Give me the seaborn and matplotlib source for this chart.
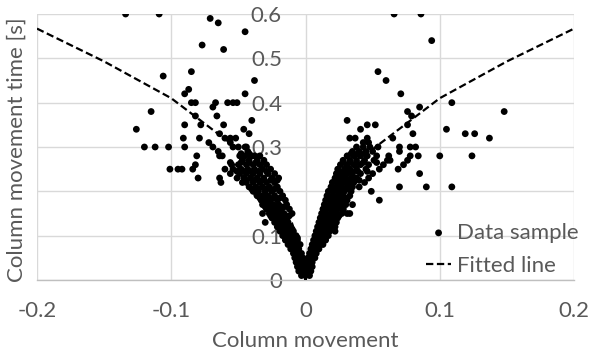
import pandas as pd
import matplotlib
matplotlib.use("Agg")
import matplotlib.pyplot as plt
import seaborn as sns

# dense V-shaped core: (y, [x values]) rows
core_rows = [
    (0.01, [-0.003, 0.0, 0.003]),
    (0.02, [-0.005, -0.002, 0.001, 0.004]),
    (0.03, [-0.006, -0.003, 0.0, 0.003, 0.005]),
    (0.04, [-0.007, -0.004, -0.001, 0.002, 0.005]),
    (0.05, [-0.008, -0.005, -0.002, 0.002, 0.005, 0.007]),
    (0.06, [-0.009, -0.006, -0.003, 0.003, 0.006, 0.008]),
    (0.07, [-0.011, -0.008, -0.005, 0.004, 0.007, 0.010]),
    (0.08, [-0.013, -0.010, -0.007, -0.004, 0.005, 0.008, 0.011, 0.013]),
    (0.09, [-0.015, -0.012, -0.009, -0.006, 0.006, 0.009, 0.012, 0.015]),
    (0.095, [-0.014, -0.010, -0.006, 0.008, 0.012]),
    (0.10, [-0.017, -0.014, -0.011, -0.007, 0.007, 0.010, 0.013, 0.017]),
    (0.11, [-0.019, -0.016, -0.013, -0.009, 0.008, 0.011, 0.014, 0.018]),
    (0.115, [-0.018, -0.014, -0.010, 0.010, 0.014, 0.018]),
    (0.12, [-0.021, -0.018, -0.015, -0.011, 0.009, 0.012, 0.015, 0.019, 0.022]),
    (0.13, [-0.023, -0.020, -0.017, -0.013, 0.010, 0.013, 0.016, 0.020, 0.023]),
    (0.135, [-0.022, -0.018, -0.014, 0.012, 0.016, 0.020]),
    (0.14, [-0.025, -0.022, -0.018, -0.014, 0.011, 0.014, 0.017, 0.021, 0.024]),
    (0.145, [-0.026, -0.021, -0.017, -0.012, 0.013, 0.017, 0.021, 0.025]),
    (0.15, [-0.027, -0.024, -0.020, -0.016, -0.010, 0.012, 0.015, 0.019, 0.023, 0.027]),
    (0.16, [-0.029, -0.026, -0.022, -0.018, -0.012, 0.013, 0.016, 0.020, 0.024, 0.028]),
    (0.165, [-0.030, -0.025, -0.021, -0.016, 0.015, 0.019, 0.023, 0.027]),
    (0.17, [-0.031, -0.028, -0.024, -0.020, -0.014, 0.014, 0.018, 0.022, 0.026, 0.030]),
    (0.18, [-0.033, -0.030, -0.026, -0.021, -0.015, 0.015, 0.019, 0.023, 0.027, 0.031]),
    (0.185, [-0.034, -0.029, -0.024, -0.019, 0.017, 0.021, 0.025, 0.030]),
    (0.19, [-0.036, -0.032, -0.028, -0.023, -0.017, 0.016, 0.020, 0.024, 0.028, 0.033]),
    (0.20, [-0.039, -0.035, -0.030, -0.025, -0.019, 0.017, 0.021, 0.025, 0.029, 0.034]),
    (0.205, [-0.040, -0.035, -0.029, -0.023, 0.019, 0.023, 0.027, 0.032]),
    (0.21, [-0.042, -0.037, -0.032, -0.027, -0.021, 0.019, 0.023, 0.027, 0.031, 0.035, 0.040]),
    (0.22, [-0.044, -0.039, -0.034, -0.029, -0.023, 0.020, 0.024, 0.028, 0.032, 0.036, 0.044]),
    (0.225, [-0.044, -0.038, -0.032, -0.026, -0.021, 0.022, 0.026, 0.030, 0.035, 0.040]),
    (0.23, [-0.046, -0.041, -0.036, -0.031, -0.025, -0.020, 0.022, 0.026, 0.030, 0.034, 0.038, 0.047]),
    (0.24, [-0.049, -0.044, -0.039, -0.034, -0.028, -0.023, 0.023, 0.027, 0.031, 0.035, 0.041, 0.050]),
    (0.245, [-0.051, -0.046, -0.041, -0.035, -0.029, 0.025, 0.029, 0.034, 0.039, 0.046]),
    (0.25, [-0.054, -0.048, -0.043, -0.038, -0.032, -0.026, 0.024, 0.029, 0.033, 0.038, 0.045, 0.055]),
    (0.26, [-0.050, -0.044, -0.039, -0.034, -0.029, 0.026, 0.031, 0.036, 0.041, 0.047, 0.058]),
    (0.265, [-0.056, -0.048, -0.042, -0.037, -0.031, 0.028, 0.033, 0.038, 0.043, 0.053]),
    (0.27, [-0.047, -0.042, -0.036, -0.031, 0.028, 0.033, 0.038, 0.044, 0.051]),
    (0.28, [-0.045, -0.040, 0.031, 0.036, 0.041, 0.046]),
    (0.285, [-0.048, -0.042, 0.034, 0.039, 0.044]),
    (0.29, [-0.043, 0.035, 0.040, 0.045, 0.050]),
    (0.30, [0.038, 0.043, 0.048]),
    (0.31, [0.043, 0.047]),
]

# scattered samples outside the core
spread_x = [-0.134, -0.109, 0.066, 0.086, -0.071, -0.065, -0.045, -0.077, -0.061,
            -0.106, -0.085, -0.038, -0.087, -0.090, -0.045, 0.094, 0.054, 0.060, 0.071,
            0.109, 0.148, 0.105, 0.119, 0.126, 0.137, 0.100, 0.124, 0.090, 0.109, 0.055,
            0.049, 0.070, 0.031, 0.041, 0.046, 0.052, 0.033, 0.037, 0.046, 0.065, 0.080,
            0.076, 0.076, 0.079, 0.085, 0.070, 0.078, 0.082, 0.070, 0.078, 0.084, 0.076,
            0.073, 0.069, 0.085, 0.062, 0.061, 0.063, 0.054, 0.053,
            -0.126, -0.115, -0.120, -0.112, -0.102, -0.101, -0.095, -0.092, -0.091, -0.090,
            -0.090, -0.085, -0.082, -0.082, -0.079, -0.078, -0.081, -0.082, -0.080, -0.084,
            -0.069, -0.067, -0.066, -0.072, -0.069, -0.065, -0.064, -0.061, -0.064, -0.064,
            -0.063, -0.058, -0.054, -0.051, -0.056, -0.054, -0.050, -0.049, -0.040, -0.046,
            -0.042, -0.044, -0.038, -0.034, -0.055, -0.060, -0.056, -0.052, -0.047, -0.056,
            -0.051, -0.047, -0.045, -0.041, -0.062, -0.060,
            -0.032, -0.030, -0.032, 0.022, 0.031, 0.033, 0.035, 0.028]
spread_y = [0.60, 0.60, 0.60, 0.60, 0.59, 0.58, 0.56, 0.53, 0.52,
            0.46, 0.47, 0.45, 0.43, 0.42, 0.42, 0.54, 0.47, 0.45, 0.42,
            0.40, 0.38, 0.34, 0.33, 0.33, 0.32, 0.28, 0.28, 0.21, 0.21, 0.18,
            0.20, 0.21, 0.36, 0.34, 0.35, 0.35, 0.32, 0.32, 0.32, 0.32, 0.33,
            0.35, 0.38, 0.37, 0.39, 0.30, 0.30, 0.30, 0.29, 0.28, 0.28, 0.27,
            0.26, 0.25, 0.24, 0.28, 0.27, 0.27, 0.30, 0.28,
            0.34, 0.38, 0.30, 0.30, 0.30, 0.25, 0.25, 0.25, 0.32, 0.30,
            0.35, 0.40, 0.40, 0.37, 0.32, 0.35, 0.28, 0.26, 0.23, 0.25,
            0.39, 0.40, 0.37, 0.31, 0.30, 0.29, 0.28, 0.35, 0.33, 0.23,
            0.22, 0.40, 0.40, 0.40, 0.32, 0.30, 0.30, 0.28, 0.36, 0.34,
            0.33, 0.30, 0.28, 0.28, 0.26, 0.32, 0.31, 0.32, 0.27, 0.24,
            0.23, 0.22, 0.30, 0.28, 0.28, 0.25,
            0.15, 0.13, 0.17, 0.11, 0.15, 0.15, 0.17, 0.16]

# fitted line
fit_x = [-0.2, -0.15, -0.1, -0.05, -0.03, -0.02, -0.01, 0.0, 0.01, 0.02, 0.03, 0.05, 0.1, 0.15, 0.2]
fit_y = [0.567, 0.493, 0.410, 0.295, 0.225, 0.182, 0.128, 0.0, 0.128, 0.182, 0.225, 0.295, 0.410, 0.493, 0.567]

x_ticks = [-0.2, -0.1, 0, 0.1, 0.2]
x_labels = ["-0.2", "-0.1", "0", "0.1", "0.2"]
y_ticks = [0, 0.1, 0.2, 0.3, 0.4, 0.5, 0.6]
y_labels = ["0", "0.1", "0.2", "0.3", "0.4", "0.5", "0.6"]

rows = [(x, y) for y, xs in core_rows for x in xs] + list(zip(spread_x, spread_y))
samples = pd.DataFrame(rows, columns=["x", "y"])
fit = pd.DataFrame({"x": fit_x, "y": fit_y})

sns.set_style("white")
plt.rcParams['font.family'] = ['Lato', 'DejaVu Sans']
plt.rcParams['axes.unicode_minus'] = False

W, H = 598, 358
fig = plt.figure(figsize=(W / 100, H / 100), dpi=100)
ax = fig.add_axes([37 / W, 1 - 280 / H, (574 - 37) / W, (280 - 14) / H])

grey = "#595959"
fs = 16

sns.scatterplot(data=samples, x="x", y="y", ax=ax, color="black", s=24,
                edgecolor="none", label="Data sample", zorder=3)
sns.lineplot(data=fit, x="x", y="y", ax=ax, color="black", linewidth=1.6,
             dashes=False, label="Fitted line", zorder=3)
ax.lines[0].set_dashes([3.3, 1.6])

ax.set_xlim(-0.2, 0.2)
ax.set_ylim(0, 0.6)
ax.set_xticks(x_ticks)
ax.set_xticklabels(x_labels)
ax.set_yticks(y_ticks)
ax.set_yticklabels(y_labels)

for s in ["top", "right", "left"]:
    ax.spines[s].set_visible(False)
ax.spines["bottom"].set_color("#bfbfbf")
ax.spines["bottom"].set_linewidth(1.0)
ax.spines["left"].set_position(("data", 0))

ax.grid(True, color="#d9d9d9", linewidth=1.0)
ax.tick_params(axis="x", length=6, width=1.0, color="#bfbfbf", direction="out",
               labelsize=fs, labelcolor=grey, pad=9)
ax.tick_params(axis="y", length=0, labelsize=fs, labelcolor=grey, pad=17)

ax.set_xlabel("Column movement", fontsize=fs, color=grey, labelpad=7)
ax.set_ylabel("")
fig.text(17 / W, 1 - 150 / H, "Column movement time [s]", rotation=90,
         ha="center", va="center", fontsize=fs, color=grey)

leg = ax.legend(loc="lower left", bbox_to_anchor=(0.725, 0.015), frameon=False,
                fontsize=fs, handlelength=1.1, handletextpad=0.3,
                labelspacing=0.6, borderpad=0, borderaxespad=0, markerscale=1.0)
for t in leg.get_texts():
    t.set_color(grey)

fig.savefig("out.png", dpi=100)
